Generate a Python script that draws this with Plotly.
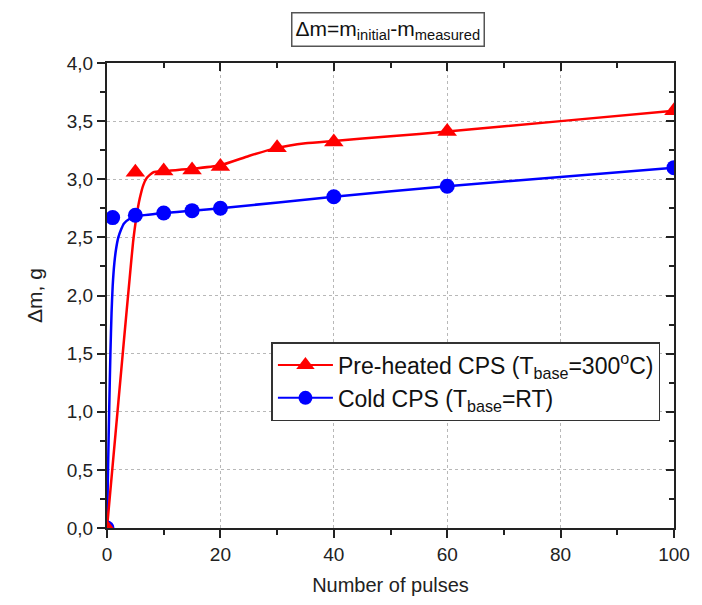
import plotly.graph_objects as go

# ---- data ----
pulses_hot = [0, 5, 10, 15, 20, 30, 40, 60, 100]
dm_hot = [0.0, 3.06, 3.07, 3.08, 3.11, 3.27, 3.32, 3.41, 3.59]

pulses_cold = [0, 1, 5, 10, 15, 20, 40, 60, 100]
dm_cold = [0.0, 2.67, 2.69, 2.71, 2.73, 2.75, 2.85, 2.94, 3.10]

# smooth fitted curves
curve_hot_x = [0, 1, 2, 3, 4, 4.6, 5.2, 5.8, 6.4, 7, 7.6, 8.2, 10, 15, 20, 25, 30, 35, 40, 50, 60, 80, 100]
curve_hot_y = [0, 0.54, 1.08, 1.62, 2.15, 2.46, 2.68, 2.84, 2.95, 3.01, 3.04, 3.06, 3.07, 3.09, 3.12, 3.20, 3.27, 3.31, 3.33, 3.37, 3.41, 3.50, 3.59]

curve_cold_x = [0, 0.2, 0.4, 0.6, 0.8, 1.0, 1.3, 1.6, 2.0, 2.5, 3.0, 4.0, 5.0, 10, 15, 20, 40, 60, 100]
curve_cold_y = [0, 0.55, 1.05, 1.5, 1.85, 2.08, 2.28, 2.40, 2.50, 2.57, 2.62, 2.66, 2.68, 2.71, 2.73, 2.75, 2.85, 2.94, 3.10]

x_ticks = [0, 20, 40, 60, 80, 100]
y_ticks = [0, 0.5, 1.0, 1.5, 2.0, 2.5, 3.0, 3.5, 4.0]

title_text = "Δm=m<sub>initial</sub>-m<sub>measured</sub>"
name_hot = "Pre-heated CPS (T<sub>base</sub>=300<sup>o</sup>C)"
name_cold = "Cold CPS (T<sub>base</sub>=RT)"

RED = "#ff0000"
BLUE = "#0000ff"
FONT = "Liberation Sans, Arial, sans-serif"
AX = "#222"

fig = go.Figure()

fig.add_trace(go.Scatter(x=curve_cold_x, y=curve_cold_y, mode="lines",
                         line=dict(color=BLUE, width=2.5, shape="spline", smoothing=0.5),
                         showlegend=False))
fig.add_trace(go.Scatter(x=curve_hot_x, y=curve_hot_y, mode="lines",
                         line=dict(color=RED, width=2.5, shape="spline", smoothing=0.5),
                         showlegend=False))
fig.add_trace(go.Scatter(x=pulses_cold, y=dm_cold, mode="markers",
                         marker=dict(symbol="circle", size=15, color=BLUE), showlegend=False))
fig.add_trace(go.Scatter(x=pulses_hot, y=dm_hot, mode="markers",
                         marker=dict(symbol="triangle-up", size=17, color=RED), showlegend=False))

# legend entries
fig.add_trace(go.Scatter(x=[None], y=[None], mode="lines+markers", name=name_hot,
                         line=dict(color=RED, width=2),
                         marker=dict(symbol="triangle-up", size=16, color=RED)))
fig.add_trace(go.Scatter(x=[None], y=[None], mode="lines+markers", name=name_cold,
                         line=dict(color=BLUE, width=2),
                         marker=dict(symbol="circle", size=14, color=BLUE)))

# helper trace for mirrored inward ticks
fig.add_trace(go.Scatter(x=[None], y=[None], xaxis="x2", yaxis="y2", showlegend=False,
                         hoverinfo="skip"))

grid = dict(showgrid=True, gridcolor="#b8b8b8", gridwidth=1, griddash="3px,3px")

fig.update_layout(
    width=694, height=597,
    margin=dict(l=99, r=22, t=55, b=75),
    paper_bgcolor="white", plot_bgcolor="white",
    separators=",.",
    font=dict(family=FONT, size=19, color=AX),
    xaxis=dict(range=[0, 100], tickmode="array", tickvals=x_ticks,
               ticks="outside", ticklen=8, tickwidth=2, tickcolor=AX,
               minor=dict(dtick=10, ticks="outside", ticklen=5, tickwidth=2, tickcolor=AX, showgrid=False),
               showline=True, linecolor=AX, linewidth=2, mirror=True,
               zeroline=False, tickfont=dict(size=19),
               title=dict(text="Number of pulses", font=dict(size=20), standoff=14),
               **grid),
    yaxis=dict(range=[0, 4], tickmode="array", tickvals=y_ticks, tickformat=".1f",
               ticks="outside", ticklen=8, tickwidth=2, tickcolor=AX,
               minor=dict(dtick=0.25, ticks="outside", ticklen=5, tickwidth=2, tickcolor=AX, showgrid=False),
               showline=True, linecolor=AX, linewidth=2, mirror=True,
               zeroline=False, tickfont=dict(size=19),
               title=dict(text="Δm, g", font=dict(size=21), standoff=18),
               **grid),
    xaxis2=dict(overlaying="x", side="top", range=[0, 100], tickmode="array", tickvals=x_ticks,
                ticks="inside", ticklen=8, tickwidth=2, tickcolor=AX,
                minor=dict(dtick=10, ticks="inside", ticklen=5, tickwidth=2, tickcolor=AX),
                showticklabels=False, showgrid=False, zeroline=False, showline=False),
    yaxis2=dict(overlaying="y", side="right", range=[0, 4], tickmode="array", tickvals=y_ticks,
                ticks="inside", ticklen=8, tickwidth=2, tickcolor=AX,
                minor=dict(dtick=0.25, ticks="inside", ticklen=5, tickwidth=2, tickcolor=AX),
                showticklabels=False, showgrid=False, zeroline=False, showline=False),
    legend=dict(x=0.29, y=0.40, xanchor="left", yanchor="top",
                bgcolor="white", bordercolor="#333", borderwidth=1.5,
                font=dict(size=23, color="#111"), itemwidth=55,
                tracegroupgap=0),
    annotations=[dict(text=title_text, xref="paper", yref="paper", x=0.495, y=1.073,
                      xanchor="center", yanchor="middle", showarrow=False,
                      font=dict(size=21, color="#111"), bordercolor="#555",
                      borderwidth=1.5, borderpad=3, bgcolor="white")],
)

fig.write_html("out.html")
